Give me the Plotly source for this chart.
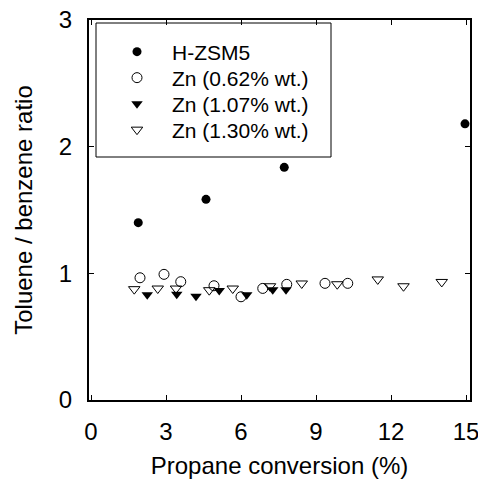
import plotly.graph_objects as go

# H-ZSM5
hz_x = [1.89, 4.60, 7.73, 14.96]
hz_y = [1.40, 1.584, 1.837, 2.18]
# Zn 0.62 % wt.
z062_x = [1.96, 2.92, 3.59, 4.92, 6.00, 6.87, 7.83, 9.36, 10.27]
z062_y = [0.965, 0.992, 0.934, 0.902, 0.815, 0.881, 0.913, 0.921, 0.921]
# Zn 1.07 % wt.
z107_x = [2.25, 3.43, 4.20, 5.13, 6.23, 7.27, 7.80]
z107_y = [0.83, 0.835, 0.82, 0.865, 0.83, 0.87, 0.87]
# Zn 1.30 % wt.
z130_x = [1.73, 2.67, 3.40, 4.73, 5.67, 7.16, 8.43, 9.85, 11.47, 12.50, 14.03]
z130_y = [0.875, 0.88, 0.88, 0.867, 0.88, 0.898, 0.92, 0.914, 0.952, 0.898, 0.932]

x_ticks = [0, 3, 6, 9, 12, 15]
y_ticks = [0, 1, 2, 3]

FONT = "Arial, Liberation Sans, sans-serif"

fig = go.Figure()
fig.add_trace(go.Scatter(x=hz_x, y=hz_y, mode="markers", name="H-ZSM5", legend="legend",
                         marker=dict(symbol="circle", size=9, color="black")))
fig.add_trace(go.Scatter(x=z062_x, y=z062_y, mode="markers", name="Zn (0.62% wt.)", legend="legend2",
                         marker=dict(symbol="circle-open", size=10, color="black", line=dict(width=1))))
fig.add_trace(go.Scatter(x=z107_x, y=z107_y, mode="markers", name="Zn (1.07% wt.)", legend="legend3",
                         marker=dict(symbol="triangle-down", size=10, color="black")))
fig.add_trace(go.Scatter(x=z130_x, y=z130_y, mode="markers", name="Zn (1.30% wt.)", legend="legend4",
                         marker=dict(symbol="triangle-down-open", size=10, color="black", line=dict(width=1))))

axis_common = dict(showline=True, linecolor="black", linewidth=2, mirror="allticks",
                   ticks="inside", ticklen=5, tickcolor="black", tickwidth=1,
                   showgrid=False, zeroline=False, automargin=False,
                   ticklabeloverflow="allow",
                   tickfont=dict(family=FONT, size=24, color="black"))

fig.update_xaxes(range=[-0.08, 15.16], tickvals=x_ticks, ticktext=[str(v) for v in x_ticks],
                 title=dict(text="Propane conversion (%)", font=dict(family=FONT, size=24, color="black"), standoff=13),
                 ticklabelstandoff=9, **axis_common)
fig.update_yaxes(range=[0, 3], tickvals=y_ticks, ticktext=[str(v) for v in y_ticks],
                 title=dict(text="Toluene / benzene ratio", font=dict(family=FONT, size=24, color="black"), standoff=19),
                 ticklabelstandoff=10, **axis_common)

# plot area on screen: x 89..470, y 20..400
def px(xs):
    return (xs - 89) / 381

def py(ys):
    return (400 - ys) / 380

fig.add_shape(type="rect", xref="paper", yref="paper",
              x0=px(96), x1=px(331), y0=py(157), y1=py(23),
              line=dict(color="black", width=1), fillcolor="white", layer="below")

def leg(ycenter):
    return dict(x=px(102), y=py(ycenter), xanchor="left", yanchor="middle",
                bgcolor="rgba(0,0,0,0)", borderwidth=0, itemwidth=60,
                font=dict(family=FONT, size=21, color="black"))

fig.update_layout(
    width=478, height=480,
    margin=dict(l=81, r=16, t=12, b=88),
    paper_bgcolor="white", plot_bgcolor="white",
    font=dict(family=FONT, size=21, color="black"),
    showlegend=True,
    legend=leg(52), legend2=leg(78), legend3=leg(104), legend4=leg(130),
)

fig.write_html("out.html")
